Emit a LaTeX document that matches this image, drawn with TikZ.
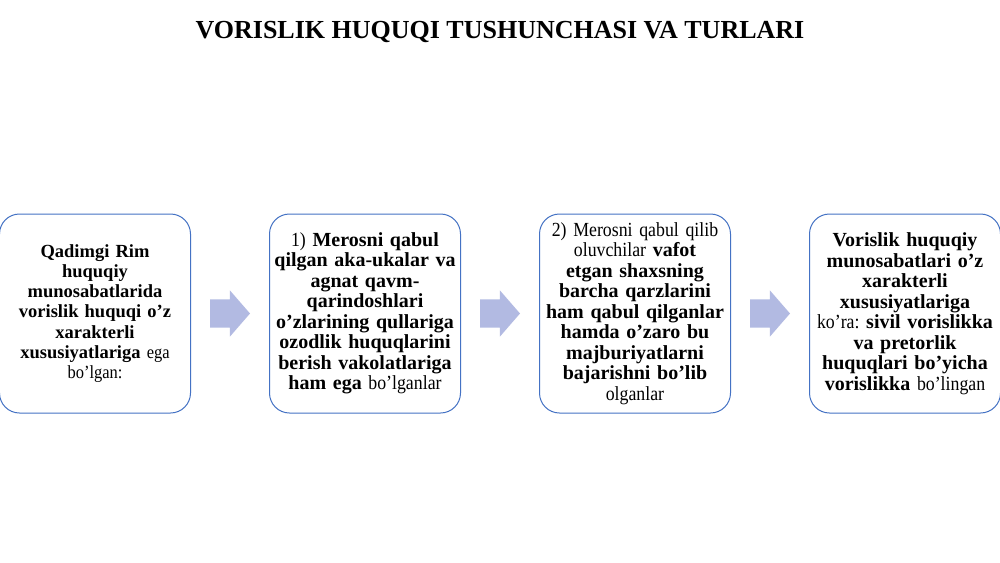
\documentclass[tikz,border=0pt]{standalone}
\usepackage{fontspec}
\setmainfont{Liberation Serif}
\newfontfamily\narrowserif{Liberation Serif}[FakeStretch=0.89]
\usetikzlibrary{shapes,arrows}
\definecolor{boxblue}{RGB}{68,114,196}
\definecolor{arrowfill}{RGB}{178,186,226}
\newcommand*{\hb}[1]{{\rmfamily\bfseries #1}}
\frenchspacing

\begin{document}
\begin{tikzpicture}[x=1pt,y=1pt,
    block_center/.style ={rectangle, rounded corners=20pt, draw=boxblue, line width=1pt,
      fill=white, text width=186pt, align=center,
      minimum width=191pt, minimum height=199pt, inner sep=0pt,
      font=\narrowserif\fontsize{20}{20.5}\selectfont},
    block_first/.style ={block_center,
      font=\narrowserif\fontsize{18.5}{20.3}\selectfont},
    block_arrow/.style ={single arrow, draw=none, fill=arrowfill,
      minimum height=40pt, inner xsep=0pt, inner ysep=14pt,
      single arrow head extend=9pt, single arrow tip angle=98},
    block_title/.style ={draw=none, font=\fontsize{26}{30}\selectfont\bfseries}]
    \fill[white] (0,0) rectangle (1000,-562);
    \useasboundingbox (0,0) rectangle (1000,-562);
    % title
    \node [block_title, anchor=base] (title) at (500,-38) {VORISLIK HUQUQI TUSHUNCHASI VA TURLARI};
    % outlining the chain using the matrix
    \matrix (chain) [column sep=19pt] at (500,-313.5) {
      % column 1
      \node [block_first] (rim) {\hb{Qadimgi Rim}\\
        \hb{huquqiy}\\
        \hb{munosabatlarida}\\
        \hb{vorislik huquqi o’z}\\
        \hb{xarakterli}\\
        \hb{xususiyatlariga} ega\\
        bo’lgan:};
      & \node [block_arrow] (arrow_a) {};
      % column 2
      & \node [block_center] (agnat) {1) \hb{Merosni qabul}\\
        \hb{qilgan aka-ukalar va}\\
        \hb{agnat qavm-}\\
        \hb{qarindoshlari}\\
        \hb{o’zlarining qullariga}\\
        \hb{ozodlik huquqlarini}\\
        \hb{berish vakolatlariga}\\
        \hb{ham ega} bo’lganlar};
      & \node [block_arrow] (arrow_b) {};
      % column 3
      & \node [block_center] (qarz) {2) Merosni qabul qilib\\
        oluvchilar \hb{vafot}\\
        \hb{etgan shaxsning}\\
        \hb{barcha qarzlarini}\\
        \hb{ham qabul qilganlar}\\
        \hb{hamda o’zaro bu}\\
        \hb{majburiyatlarni}\\
        \hb{bajarishni bo’lib}\\
        olganlar};
      & \node [block_arrow] (arrow_c) {};
      % column 4
      & \node [block_center] (turlar) {\hb{Vorislik huquqiy}\\
        \hb{munosabatlari o’z}\\
        \hb{xarakterli}\\
        \hb{xususiyatlariga}\\
        ko’ra: \hb{sivil vorislikka}\\
        \hb{va pretorlik}\\
        \hb{huquqlari bo’yicha}\\
        \hb{vorislikka} bo’lingan};\\
    };
    % end matrix
\end{tikzpicture}
\end{document}
